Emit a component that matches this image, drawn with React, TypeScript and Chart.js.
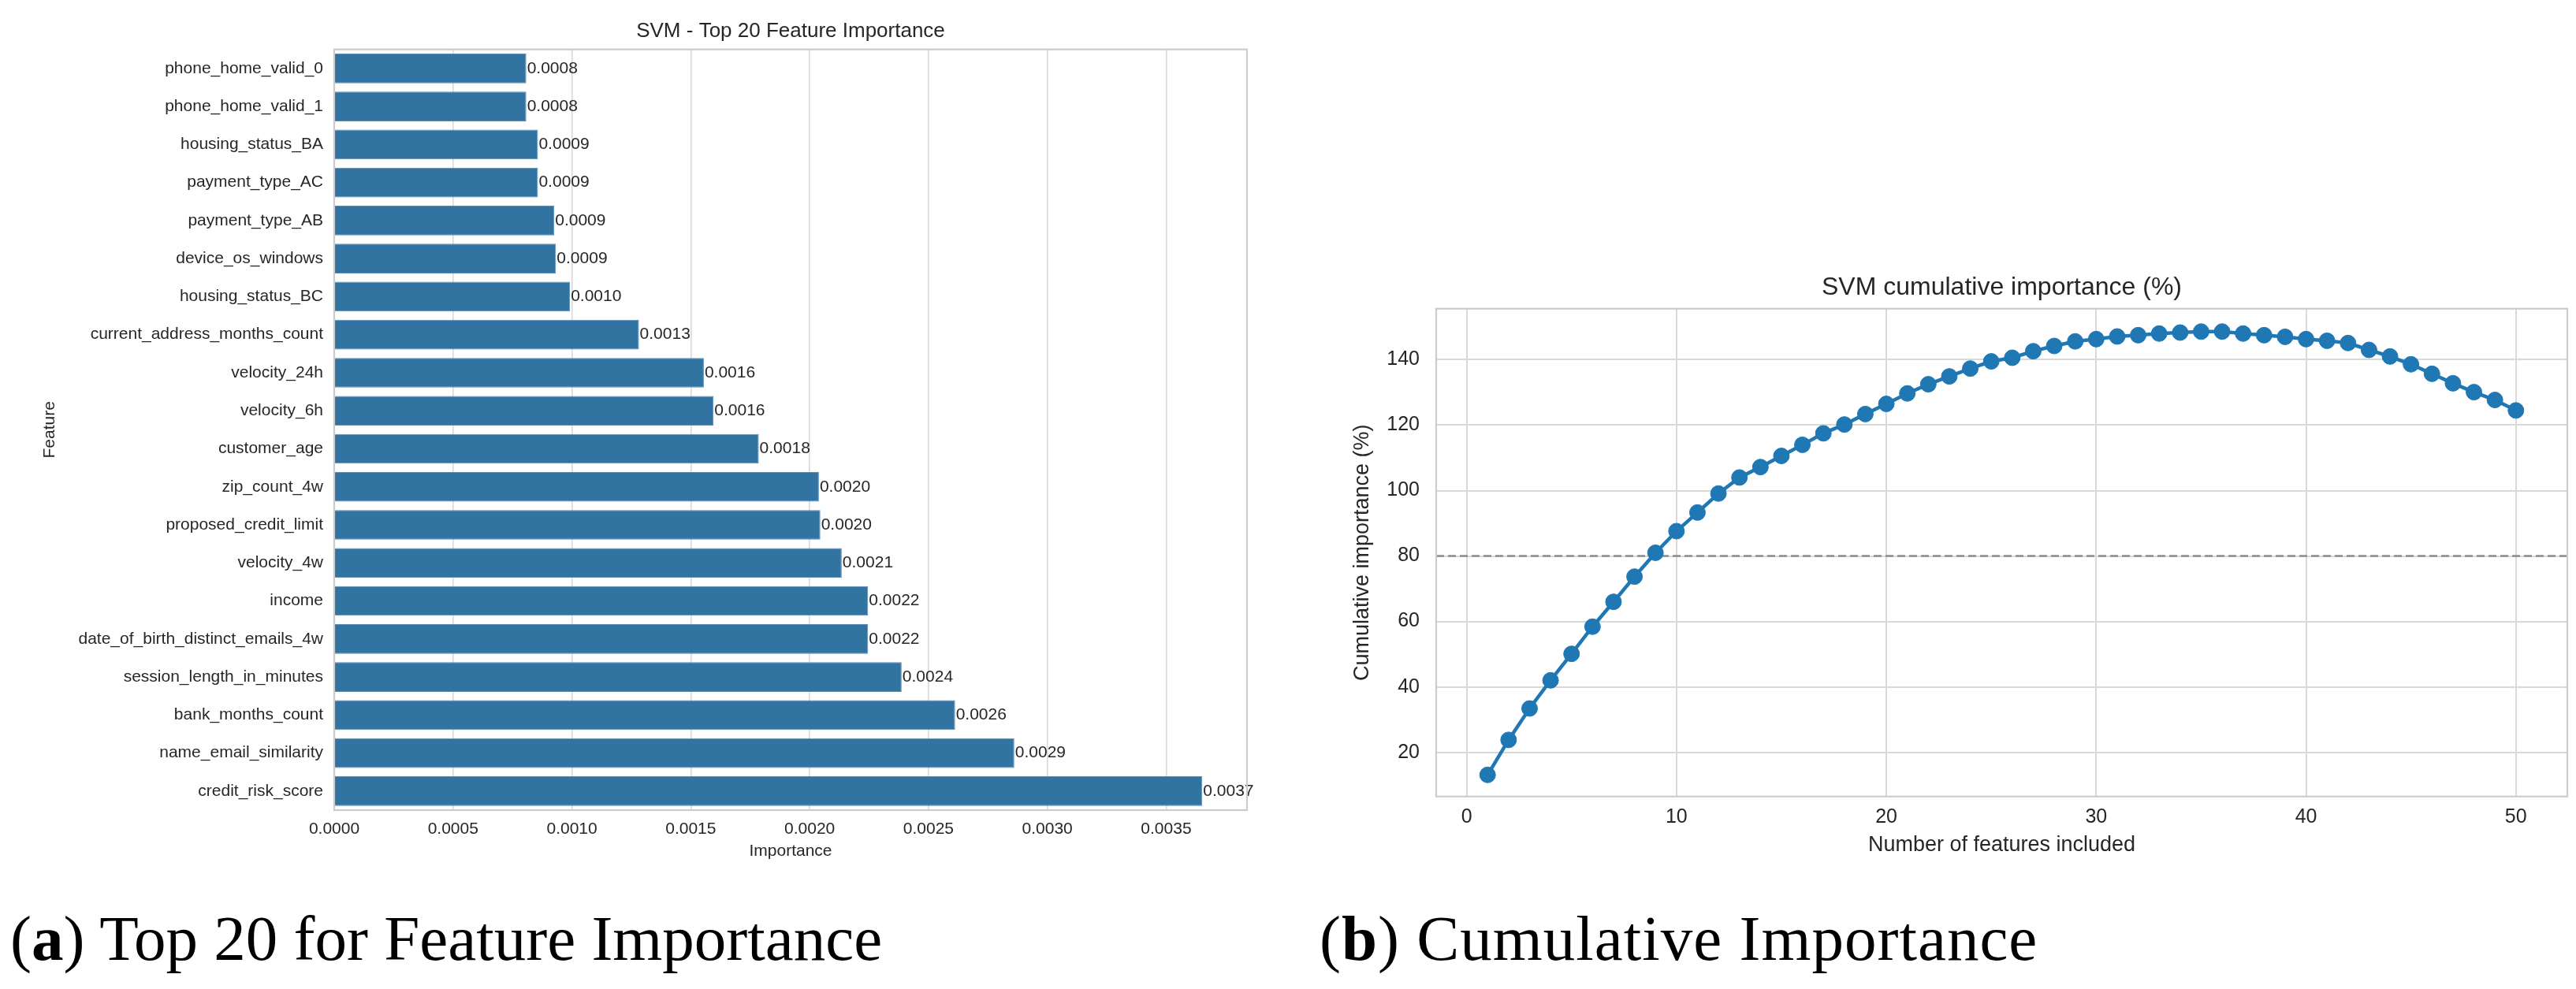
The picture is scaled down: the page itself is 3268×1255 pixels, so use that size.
import React, { useEffect, useRef } from "react";
import { Chart, registerables } from "chart.js";

Chart.register(...registerables);

// ---------- Data ----------
const featureNames = [
  "phone_home_valid_0",
  "phone_home_valid_1",
  "housing_status_BA",
  "payment_type_AC",
  "payment_type_AB",
  "device_os_windows",
  "housing_status_BC",
  "current_address_months_count",
  "velocity_24h",
  "velocity_6h",
  "customer_age",
  "zip_count_4w",
  "proposed_credit_limit",
  "velocity_4w",
  "income",
  "date_of_birth_distinct_emails_4w",
  "session_length_in_minutes",
  "bank_months_count",
  "name_email_similarity",
  "credit_risk_score",
];

const importanceValues = [
  0.000808, 0.000808, 0.000857, 0.000857, 0.000926, 0.000933, 0.000992,
  0.001282, 0.001555, 0.001596, 0.001786, 0.002039, 0.002045, 0.002135,
  0.002246, 0.002246, 0.002387, 0.002612, 0.002861, 0.003652,
];

const importanceTicks = [0, 0.0005, 0.001, 0.0015, 0.002, 0.0025, 0.003, 0.0035];

const featureCounts = [
  1, 2, 3, 4, 5, 6, 7, 8, 9, 10, 11, 12, 13, 14, 15, 16, 17, 18, 19, 20, 21, 22,
  23, 24, 25, 26, 27, 28, 29, 30, 31, 32, 33, 34, 35, 36, 37, 38, 39, 40, 41,
  42, 43, 44, 45, 46, 47, 48, 49, 50,
];

const cumulativeValues = [
  13.1, 23.8, 33.4, 42.0, 50.1, 58.4, 66.0, 73.7, 81.0, 87.6, 93.3, 99.1,
  104.0, 107.2, 110.6, 114.0, 117.5, 120.2, 123.4, 126.5, 129.7, 132.5, 134.9,
  137.3, 139.5, 140.6, 142.6, 144.2, 145.6, 146.3, 147.1, 147.5, 148.0, 148.3,
  148.6, 148.6, 148.0, 147.5, 147.0, 146.3, 145.8, 145.1, 143.0, 141.0, 138.6,
  135.7, 132.8, 130.1, 127.7, 124.5,
];

const cumulativeYTicks = [20, 40, 60, 80, 100, 120, 140];
const cumulativeXTicks = [0, 10, 20, 30, 40, 50];
const thresholdValue = 80;

// ---------- Styles ----------
const SANS = "'Liberation Sans', Arial, sans-serif";
const TEXT = "#262626";
const GRID = "#d9d9d9";
const FRAME = "#cccccc";

const framePlugin = {
  id: "frame",
  afterDraw(chart: any) {
    const { ctx, chartArea } = chart;
    ctx.save();
    ctx.strokeStyle = FRAME;
    ctx.lineWidth = 2.2;
    ctx.strokeRect(
      chartArea.left,
      chartArea.top,
      chartArea.right - chartArea.left,
      chartArea.bottom - chartArea.top
    );
    ctx.restore();
  },
};

const valueLabelPlugin = {
  id: "valueLabels",
  afterDatasetsDraw(chart: any) {
    const { ctx } = chart;
    const meta = chart.getDatasetMeta(0);
    ctx.save();
    ctx.font = `21px ${SANS}`;
    ctx.fillStyle = TEXT;
    ctx.textAlign = "left";
    ctx.textBaseline = "middle";
    meta.data.forEach((bar: any, i: number) => {
      ctx.fillText(importanceValues[i].toFixed(4), bar.x + 1, bar.y);
    });
    ctx.restore();
  },
};

const thresholdPlugin = {
  id: "threshold",
  beforeDatasetsDraw(chart: any) {
    const { ctx, chartArea, scales } = chart;
    const y = scales.y.getPixelForValue(thresholdValue);
    ctx.save();
    ctx.strokeStyle = "#8c8c8c";
    ctx.lineWidth = 2.5;
    ctx.setLineDash([10, 5]);
    ctx.beginPath();
    ctx.moveTo(chartArea.left, y);
    ctx.lineTo(chartArea.right, y);
    ctx.stroke();
    ctx.restore();
  },
};

function FeatureChart() {
  const ref = useRef<HTMLCanvasElement | null>(null);
  useEffect(() => {
    if (!ref.current) return;
    const chart = new Chart(ref.current, {
      type: "bar",
      data: {
        labels: featureNames,
        datasets: [
          {
            data: importanceValues,
            backgroundColor: "#3274a1",
            borderColor: "#5a8cb6",
            borderWidth: 1,
            barPercentage: 0.78,
            categoryPercentage: 1.0,
          },
        ],
      },
      options: {
        indexAxis: "y",
        animation: false,
        responsive: false,
        devicePixelRatio: 1,
        layout: { padding: { left: 0, right: 52, top: 0, bottom: 0 } },
        plugins: {
          legend: { display: false },
          tooltip: { enabled: false },
          title: {
            display: true,
            fullSize: false,
            text: "SVM - Top 20 Feature Importance",
            color: TEXT,
            font: { family: SANS, size: 26, weight: "normal", lineHeight: 1.2 },
            padding: { top: 24.4, bottom: 7.1 },
          },
        },
        scales: {
          x: {
            type: "linear",
            min: 0,
            max: 0.00384,
            afterFit: (s: any) => {
              s.height = 102;
            },
            afterBuildTicks: (s: any) => {
              s.ticks = importanceTicks.map((v) => ({ value: v }));
            },
            ticks: {
              color: TEXT,
              font: { family: SANS, size: 21 },
              padding: 11.4,
              callback: (v: any) => Number(v).toFixed(4),
            },
            grid: { color: GRID, lineWidth: 1.6, drawTicks: false },
            border: { display: false },
            title: {
              display: true,
              text: "Importance",
              color: TEXT,
              font: { family: SANS, size: 21, lineHeight: 1.2 },
              padding: { top: 0, bottom: 37.4 },
            },
          },
          y: {
            afterFit: (s: any) => {
              s.width = 424;
            },
            ticks: {
              color: TEXT,
              font: { family: SANS, size: 21 },
              padding: 14,
            },
            grid: { display: false, drawTicks: false },
            border: { display: false },
            title: {
              display: true,
              text: "Feature",
              color: TEXT,
              font: { family: SANS, size: 21, lineHeight: 1.2 },
              padding: { top: 50.4, bottom: 0 },
            },
          },
        },
      },
      plugins: [framePlugin, valueLabelPlugin],
    } as any);
    return () => chart.destroy();
  }, []);
  return (
    <canvas
      ref={ref}
      width={1634}
      height={1130}
      style={{ position: "absolute", left: 0, top: 0, width: 1634, height: 1130 }}
    />
  );
}

function CumulativeChart() {
  const ref = useRef<HTMLCanvasElement | null>(null);
  useEffect(() => {
    if (!ref.current) return;
    const chart = new Chart(ref.current, {
      type: "line",
      data: {
        datasets: [
          {
            data: featureCounts.map((x, i) => ({ x, y: cumulativeValues[i] })),
            borderColor: "#1f77b4",
            backgroundColor: "#1f77b4",
            borderWidth: 4.5,
            pointRadius: 10,
            pointBackgroundColor: "#1f77b4",
            pointBorderColor: "#1f77b4",
            pointBorderWidth: 1,
            tension: 0,
            fill: false,
          },
        ],
      },
      options: {
        animation: false,
        responsive: false,
        devicePixelRatio: 1,
        layout: { padding: { left: 0, right: 8, top: 0, bottom: 0 } },
        plugins: {
          legend: { display: false },
          tooltip: { enabled: false },
          title: {
            display: true,
            fullSize: false,
            text: "SVM cumulative importance (%)",
            color: TEXT,
            font: { family: SANS, size: 32, weight: "normal", lineHeight: 1.2 },
            padding: { top: 45.8, bottom: 7.5 },
          },
        },
        scales: {
          x: {
            type: "linear",
            min: -1.45,
            max: 52.45,
            afterFit: (s: any) => {
              s.height = 109.3;
            },
            afterBuildTicks: (s: any) => {
              s.ticks = cumulativeXTicks.map((v) => ({ value: v }));
            },
            ticks: {
              color: TEXT,
              font: { family: SANS, size: 25 },
              padding: 11,
            },
            grid: { color: GRID, lineWidth: 2, drawTicks: false },
            border: { display: false },
            title: {
              display: true,
              text: "Number of features included",
              color: TEXT,
              font: { family: SANS, size: 27, lineHeight: 1.2 },
              padding: { top: 0, bottom: 31.1 },
            },
          },
          y: {
            type: "linear",
            min: 6.5,
            max: 155.6,
            afterFit: (s: any) => {
              s.width = 188;
            },
            afterBuildTicks: (s: any) => {
              s.ticks = cumulativeYTicks.map((v) => ({ value: v }));
            },
            ticks: {
              color: TEXT,
              font: { family: SANS, size: 25 },
              padding: 21,
            },
            grid: { color: GRID, lineWidth: 2, drawTicks: false },
            border: { display: false },
            title: {
              display: true,
              text: "Cumulative importance (%)",
              color: TEXT,
              font: { family: SANS, size: 27, lineHeight: 1.2 },
              padding: { top: 78.8, bottom: 0 },
            },
          },
        },
      },
      plugins: [framePlugin, thresholdPlugin],
    } as any);
    return () => chart.destroy();
  }, []);
  return (
    <canvas
      ref={ref}
      width={1634}
      height={820}
      style={{ position: "absolute", left: 1634, top: 300, width: 1634, height: 820 }}
    />
  );
}

const captionStyle: React.CSSProperties = {
  position: "absolute",
  top: 1151,
  fontFamily: "'Liberation Serif', 'Times New Roman', serif",
  fontSize: 81,
  lineHeight: "81px",
  color: "#000",
  whiteSpace: "nowrap",
};

export default function App() {
  return (
    <div
      style={{
        position: "absolute",
        left: 0,
        top: 0,
        width: 3268,
        height: 1255,
        overflow: "hidden",
        background: "#ffffff",
      }}
    >
      <FeatureChart />
      <CumulativeChart />
      <div style={{ ...captionStyle, left: 13 }}>
        (<b>a</b>) Top 20 for Feature Importance
      </div>
      <div style={{ ...captionStyle, left: 1674, letterSpacing: 1 }}>
        (<b>b</b>) Cumulative Importance
      </div>
    </div>
  );
}
